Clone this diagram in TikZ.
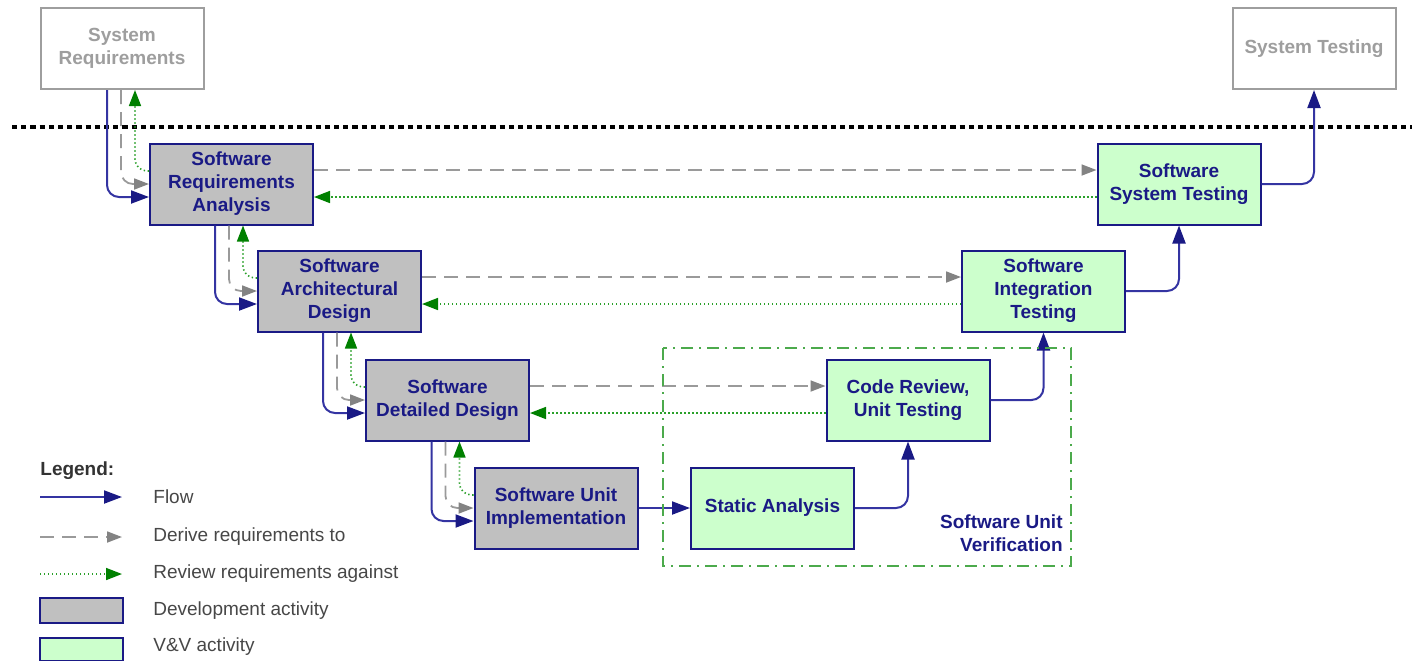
\documentclass[tikz,border=0pt]{standalone}
\usepackage{fontspec}
\setmainfont{Liberation Sans}
\usetikzlibrary{positioning,calc,arrows.meta}
\definecolor{navy}{HTML}{1A1A85}
\definecolor{flowline}{HTML}{3434A2}
\definecolor{devfill}{HTML}{C0C0C0}
\definecolor{vvfill}{HTML}{CCFFCC}
\definecolor{derivegray}{HTML}{9A9A9A}
\definecolor{reviewgreen}{HTML}{2AA02A}
\definecolor{unitgreen}{HTML}{4CAA4C}
\definecolor{sysgray}{HTML}{9E9E9E}
\definecolor{legtext}{HTML}{474747}

\begin{document}
\begin{tikzpicture}[x=0.5pt, y=-0.5pt,
  font=\fontsize{9.5}{11.5}\selectfont,
  box/.style={draw=navy, line width=1pt, minimum width=81.5pt, minimum height=40.5pt,
    inner sep=0pt, align=center, text=navy, font=\fontsize{9.5}{11.5}\selectfont\bfseries},
  devbox/.style={box, fill=devfill},
  vvbox/.style={box, fill=vvfill},
  sysbox/.style={box, draw=sysgray, text=sysgray, fill=white},
  flow/.style={draw=flowline, line width=1pt, rounded corners=6pt,
    -{Triangle[length=9pt, width=6.5pt, color=navy]}},
  derive/.style={draw=derivegray, line width=0.9pt, dash pattern=on 7pt off 4pt, rounded corners=6pt,
    -{Triangle[length=7.5pt, width=5.5pt, color=derivegray!85!black]}},
  review/.style={draw=reviewgreen, line width=0.8pt, dash pattern=on 0.7pt off 1.3pt, rounded corners=6pt,
    -{Triangle[length=8pt, width=6pt, color=green!50!black]}},
  legtext/.style={anchor=west, inner sep=0pt, text=legtext}]
\useasboundingbox (0,0) rectangle (1412,660);
\newcommand{\reqstep}[2]{% upper box, lower box
  \draw[flow] ($(#1.south -| #2.west)+(-42,0)$) |- ($(#2.west)+(0,13)$);
  \draw[derive] ($(#1.south -| #2.west)+(-28,0)$) |- (#2.west);
  \draw[review] ($(#2.west)+(0,-13)$) -| ($(#1.south -| #2.west)+(-14,0)$);}

% system level
\node[sysbox] (sysreq) at (122,48.5) {System\\Requirements};
\node[sysbox] (systest) at (1314,48.5) {System Testing};
\draw[line width=2pt, dash pattern=on 2.6pt off 2pt] (12,127) -- (1412,127);

% left leg
\node[devbox] (sra) at (231.5,184) {Software\\Requirements\\Analysis};
\node[devbox] (sad) at (339.5,291) {Software\\Architectural\\Design};
\node[devbox] (sdd) at (447.5,400) {Software\\Detailed Design};
\node[devbox] (sui) at (556,508) {Software Unit\\Implementation};

% right leg
\node[vvbox] (sa) at (772.5,508) {Static Analysis};
\node[vvbox] (cr) at (908,400) {Code Review,\\Unit Testing};
\node[vvbox] (sit) at (1043.5,291) {Software\\Integration\\Testing};
\node[vvbox] (sst) at (1179,184) {Software\\System Testing};

\reqstep{sysreq}{sra}
\reqstep{sra}{sad}
\reqstep{sad}{sdd}
\reqstep{sdd}{sui}

\foreach \dv/\vv in {sra/sst, sad/sit, sdd/cr} {
  \draw[derive] ($(\dv.east)+(0,-14)$) -- ($(\vv.west)+(0,-14)$);
  \draw[review] ($(\vv.west)+(0,13)$) -- ($(\dv.east)+(0,13)$);}

\draw[flow] (sui.east) -- (sa.west);
\draw[flow] (sa.east) -| (cr.south);
\draw[flow] (cr.east) -| (sit.south);
\draw[flow] (sit.east) -| (sst.south);
\draw[flow] (sst.east) -| (systest.south);

% unit verification group
\draw[unitgreen, line width=1.1pt, dash pattern=on 6pt off 3pt on 1pt off 3pt] (663,348) rectangle (1071,566);
\node[anchor=east, align=right, inner sep=0pt, text=navy, font=\fontsize{9.5}{11.5}\selectfont\bfseries]
  (unitlbl) at (1063,533) {Software Unit\\Verification};

% legend
\node[legtext, text=black!80, font=\fontsize{9.5}{11.5}\selectfont\bfseries] (legend) at (40,471) {Legend:};
\foreach \y/\s/\t in {497/flow/Flow, 537/derive/Derive requirements to, 574/review/Review requirements against} {
  \draw[\s] (40,\y) -- (122,\y);
  \node[legtext] at (153,\y) {\t};}
\node[devbox, minimum width=41.5pt, minimum height=12.5pt] (legdev) at (81.5,610.5) {};
\node[legtext] (legdevtxt) at (153,611) {Development activity};
\node[vvbox, minimum width=41.5pt, minimum height=11.5pt] (legvv) at (81.5,649) {};
\node[legtext] (legvvtxt) at (153,647) {V\&V activity};
\end{tikzpicture}
\end{document}
